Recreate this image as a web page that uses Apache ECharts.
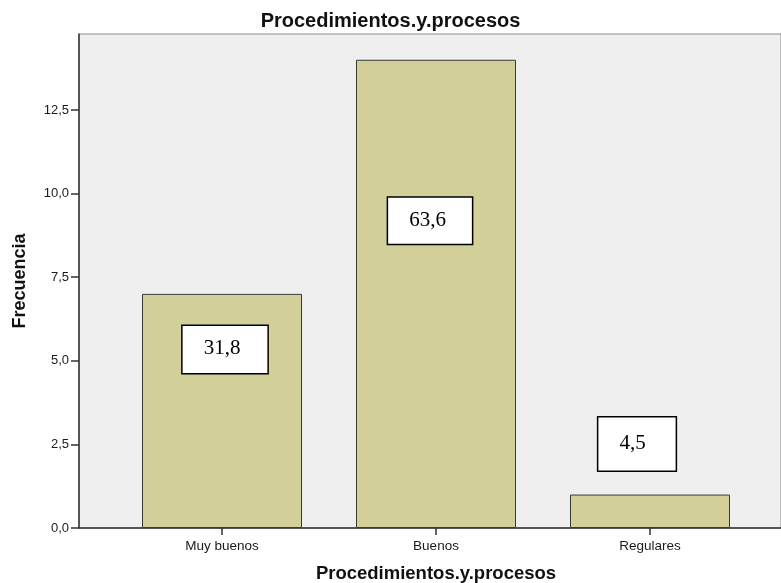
<!DOCTYPE html>
<html>
<head>
<meta charset="utf-8">
<script src="https://cdn.jsdelivr.net/npm/echarts@6/dist/echarts.min.js"></script>
<style>
  html, body { margin: 0; padding: 0; background: #ffffff; }
  #chart { width: 781px; height: 583px; }
</style>
</head>
<body>
<div id="chart"></div>
<script>
// Frequency of answers per category
const categories = ['Muy buenos', 'Buenos', 'Regulares'];
const frecuencias = [7, 14, 1];
const yTicks = [0, 2.5, 5, 7.5, 10, 12.5];
const yMax = 14.77;
const chartTitle = 'Procedimientos.y.procesos';
const xName = 'Procedimientos.y.procesos';
const yName = 'Frecuencia';

const total = frecuencias.reduce((a, b) => a + b, 0);
const pct = v => (v / total * 100).toFixed(1).replace('.', ',');
const fmt = v => v.toFixed(1).replace('.', ',');

// where each percentage box sits relative to its bar, and its inner spacing
const labelPlacement = [
  { position: 'insideTop', distance: 32, offset: [3, 0], padding: [12, 27, 13, 21] },
  { position: 'insideTop', distance: 138, offset: [-6, 0], padding: [12, 26, 12, 21] },
  { position: 'top', distance: 24, offset: [-13, 0], padding: [15, 30, 16, 21] }
];

const sans = 'Liberation Sans, Arial, sans-serif';
const chart = echarts.init(document.getElementById('chart'), null, { renderer: 'canvas' });

chart.setOption({
  animation: false,
  title: {
    text: chartTitle,
    left: 'center',
    top: 6,
    textStyle: { fontFamily: sans, fontSize: 20, fontWeight: 'bold', color: '#111' }
  },
  grid: [
    { left: 79, right: 0, top: 34, bottom: 55, outerBoundsMode: 'none', containLabel: false,
      show: true, backgroundColor: '#efefef', borderColor: '#8c8c8c', borderWidth: 1 },
    { left: 115, right: 24, top: 34, bottom: 55, outerBoundsMode: 'none', containLabel: false }
  ],
  xAxis: [
    {
      gridIndex: 0, type: 'value', min: 0, max: 1,
      axisLine: { show: true, lineStyle: { color: '#333', width: 1.5 } },
      axisTick: { show: false }, axisLabel: { show: false }, splitLine: { show: false }
    },
    {
      gridIndex: 1, type: 'category', data: categories,
      axisLine: { show: false },
      axisTick: { show: true, alignWithLabel: true, length: 7, lineStyle: { color: '#333', width: 1.5 } },
      axisLabel: { fontFamily: sans, fontSize: 13.5, color: '#1a1a1a', margin: 11 },
      name: xName, nameLocation: 'middle', nameGap: 36,
      nameTextStyle: { fontFamily: sans, fontSize: 18.5, fontWeight: 'bold', color: '#111' }
    }
  ],
  yAxis: [
    {
      gridIndex: 0, type: 'value', min: 0, max: yMax, interval: 2.5,
      axisLine: { show: true, lineStyle: { color: '#333', width: 1.5 } },
      axisTick: { show: true, length: 8, lineStyle: { color: '#333', width: 1.5 } },
      axisLabel: {
        fontFamily: sans, fontSize: 13, color: '#1a1a1a', margin: 10, showMaxLabel: false,
        formatter: v => yTicks.some(t => Math.abs(t - v) < 1e-6) ? fmt(v) : ''
      },
      splitLine: { show: false },
      name: yName, nameLocation: 'middle', nameGap: 50, nameRotate: 90,
      nameTextStyle: { fontFamily: sans, fontSize: 18, fontWeight: 'bold', color: '#111' }
    },
    {
      gridIndex: 1, type: 'value', min: 0, max: yMax,
      show: false, splitLine: { show: false }
    }
  ],
  series: [{
    type: 'bar',
    xAxisIndex: 1, yAxisIndex: 1,
    barWidth: 160,
    data: frecuencias.map((v, i) => ({
      value: v,
      label: Object.assign({}, labelPlacement[i])
    })),
    itemStyle: { color: '#d3cf98', borderColor: '#3a3a3a', borderWidth: 1 },
    label: {
      show: true,
      formatter: p => pct(p.value),
      fontFamily: 'Liberation Serif, Times New Roman, serif',
      fontSize: 21,
      lineHeight: 22,
      color: '#000',
      backgroundColor: '#ffffff',
      borderColor: '#000',
      borderWidth: 1.5
    }
  }]
});
</script>
</body>
</html>
